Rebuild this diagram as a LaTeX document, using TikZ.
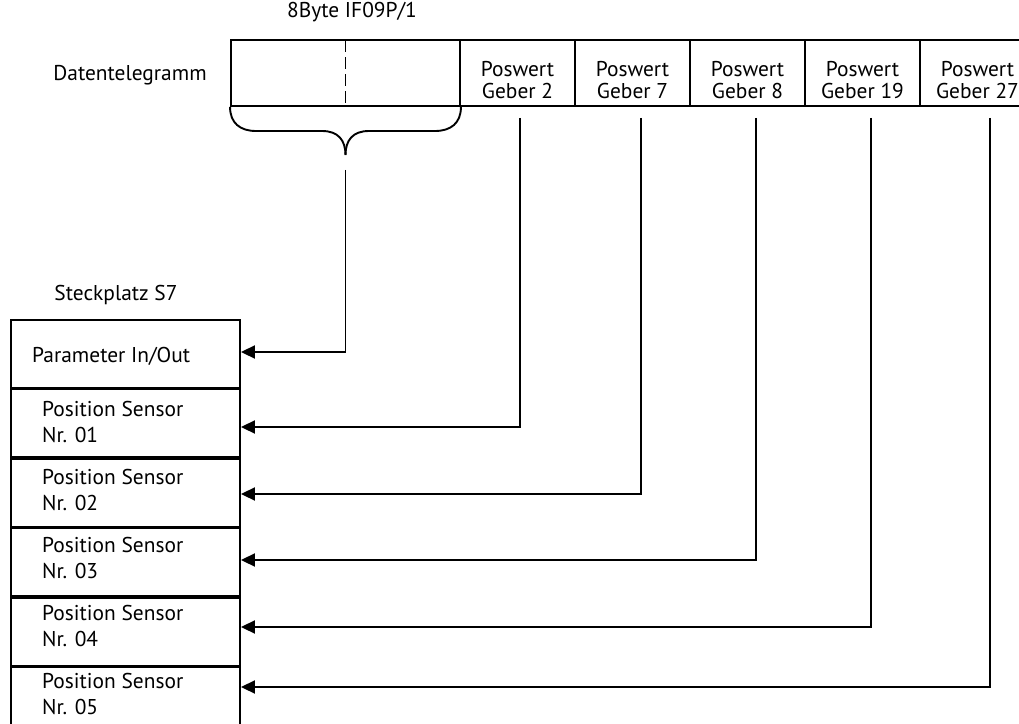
\documentclass[tikz,border=0pt]{standalone}
\usepackage{fontspec}
\setmainfont{PT Sans}
\usetikzlibrary{arrows.meta}
\begin{document}
\begin{tikzpicture}[x=1bp,y=-1bp,
  every node/.style={font=\fontsize{21.5}{21.5}\selectfont},
  line/.style={line width=1.9bp},
  cell/.style={draw,line width=1.9bp,minimum width=115bp,minimum height=66bp,
    inner sep=0pt},
  celltext/.style={align=center,inner sep=0pt,font=\fontsize{21.5}{22}\selectfont},
  slot/.style={draw,line width=1.9bp,minimum width=229bp,minimum height=67.6bp,
    inner sep=0pt},
  label/.style={anchor=west,align=left,inner sep=0pt,
    font=\fontsize{21.5}{27}\selectfont},
  conn/.style={line width=1.9bp,-{Triangle[length=14bp,width=13bp]}}]
\useasboundingbox (0,0) rectangle (1019,724);

% telegram header
\node at (352,12) {8Byte IF09P/1};
\node at (130,75) {Datentelegramm};
\node[cell,minimum width=229bp] (param) at (345.5,73) {};
\draw[line,dash pattern=on 12bp off 5bp] ([yshift=-1bp]param.north) -- (param.south);
\node[cell] (g2)  at (517.5,73) {};
\node[cell] (g7)  at (632.5,73) {};
\node[cell] (g8)  at (747.5,73) {};
\node[cell] (g19) at (862.5,73) {};
\node[cell] (g27) at (977.5,73) {};
\node[celltext] at ([yshift=-7bp]g2.center)  {Poswert\\Geber 2};
\node[celltext] at ([yshift=-7bp]g7.center)  {Poswert\\Geber 7};
\node[celltext] at ([yshift=-7bp]g8.center)  {Poswert\\Geber 8};
\node[celltext] at ([yshift=-7bp]g19.center) {Poswert\\Geber 19};
\node[celltext] at ([yshift=-7bp]g27.center) {Poswert\\Geber 27};

% brace under the parameter bytes
\coordinate (tip) at (345.5,155);
\draw[line] (param.south west) .. controls ++(0,16) and (240,131) .. (256,131)
  -- (322,131) .. controls (338,131) and (345.5,140) .. (tip);
\draw[line] (param.south east) .. controls ++(0,16) and (451,131) .. (435,131)
  -- (369,131) .. controls (353,131) and (345.5,140) .. (tip);

% slot S7
\node at (116,295) {Steckplatz S7};
\node[slot] (s0) at (125.5,353.8) {};
\node[slot,anchor=north] (s1) at (s0.south) {};
\node[slot,anchor=north] (s2) at (s1.south) {};
\node[slot,anchor=north] (s3) at (s2.south) {};
\node[slot,anchor=north] (s4) at (s3.south) {};
\node[slot,anchor=north] (s5) at (s4.south) {};

\node[label] (l0) at (32,356) {Parameter In/Out};
\node[label] (l1) at (42,422) {Position Sensor\\Nr. 01};
\node[label] (l2) at (42,490) {Position Sensor\\Nr. 02};
\node[label] (l3) at (42,558) {Position Sensor\\Nr. 03};
\node[label] (l4) at (42,626) {Position Sensor\\Nr. 04};
\node[label] (l5) at (42,694) {Position Sensor\\Nr. 05};

% connectors
\coordinate (t0) at (345.5,170);  \coordinate (c0) at (345.5,352);
\coordinate (t1) at (520,118);    \coordinate (c1) at (520,427);
\coordinate (t2) at (641,118);    \coordinate (c2) at (641,494);
\coordinate (t3) at (756,118);    \coordinate (c3) at (756,560);
\coordinate (t4) at (871,118);    \coordinate (c4) at (871,627);
\coordinate (t5) at (990,118);    \coordinate (c5) at (990,687);
\draw[conn] (t0) -- (c0) -- (c0 -| s0.east);
\draw[conn] (t1) -- (c1) -- (c1 -| s1.east);
\draw[conn] (t2) -- (c2) -- (c2 -| s2.east);
\draw[conn] (t3) -- (c3) -- (c3 -| s3.east);
\draw[conn] (t4) -- (c4) -- (c4 -| s4.east);
\draw[conn] (t5) -- (c5) -- (c5 -| s5.east);
\end{tikzpicture}
\end{document}
